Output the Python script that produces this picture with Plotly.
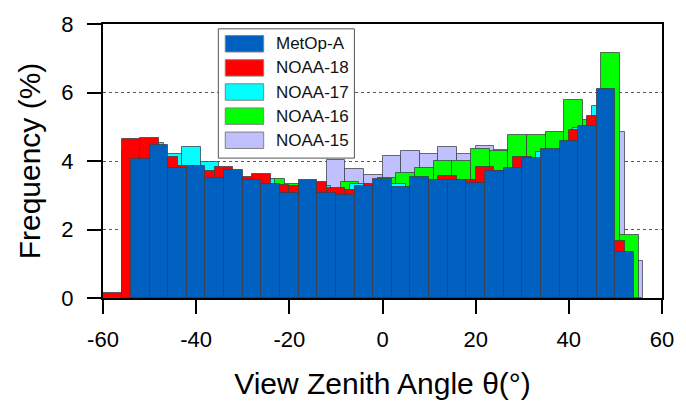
import plotly.graph_objects as go

# Histogram bin width (degrees) and the left edge of the first bin of each satellite
BIN_WIDTH = 4.0

metop_a_start = -54
metop_a = [4.07, 4.46, 3.80, 3.84, 3.50, 3.73, 3.46, 3.33, 3.07, 3.46, 3.06, 3.00, 3.27, 3.48,
           3.25, 3.53, 3.46, 3.45, 3.36, 3.71, 3.79, 4.10, 4.35, 4.58, 5.03, 6.11, 1.34]

noaa18_start = -60
noaa18 = [0.16, 4.63, 4.66, 4.11, 3.85, 3.71, 3.82, 3.53, 3.63, 3.30, 3.27, 3.40, 3.20, 3.16,
          3.33, 3.20, 3.20, 3.40, 3.57, 3.46, 3.83, 3.70, 4.11, 4.05, 4.30, 4.91, 5.32, 1.67]

noaa17_start = -55
noaa17 = [4.40, 4.54, 4.19, 4.42, 3.96, 3.50, 3.40, 3.48, 3.20, 3.20, 3.27, 3.10, 3.32, 3.30,
          3.34, 3.20, 3.40, 3.40, 3.40, 3.70, 3.65, 4.00, 4.26, 4.30, 4.96, 5.62, 1.20]

noaa16_start = -53
noaa16 = [4.30, 4.05, 3.90, 3.75, 3.65, 3.50, 3.45, 3.48, 3.32, 3.25, 3.10, 3.39, 3.20, 3.49,
          3.65, 3.81, 4.01, 4.00, 4.35, 4.29, 4.75, 4.77, 4.85, 5.79, 5.21, 7.15, 1.84]

noaa15_start = -56
noaa15 = [4.30, 4.30, 4.00, 3.75, 3.60, 3.70, 3.45, 3.50, 3.25, 3.20, 3.30, 4.04, 3.76, 3.58,
          4.15, 4.28, 4.21, 4.40, 4.19, 4.45, 4.32, 4.50, 4.60, 4.70, 5.00, 5.20, 4.85, 1.09]

x_ticks = [-60, -40, -20, 0, 20, 40, 60]
y_ticks = [0, 2, 4, 6, 8]

# Drawing order: first trace at the back, MetOp-A in front
series = [
    ("NOAA-15", noaa15_start, noaa15, "#C0C0FF"),
    ("NOAA-16", noaa16_start, noaa16, "#00FF00"),
    ("NOAA-17", noaa17_start, noaa17, "#00FFFF"),
    ("NOAA-18", noaa18_start, noaa18, "#FF0000"),
    ("MetOp-A", metop_a_start, metop_a, "#0060C0"),
]

FONT = "Liberation Sans, Arial, sans-serif"
W, H = 686, 414
PLOT_L, PLOT_R, PLOT_T, PLOT_B = 103, 670, 14, 298

fig = go.Figure()
for name, start, vals, color in series:
    centers = [start + BIN_WIDTH * (i + 0.5) for i in range(len(vals))]
    fig.add_trace(go.Bar(
        x=centers, y=vals, width=BIN_WIDTH, name=name,
        marker=dict(color=color, line=dict(color="rgba(60,60,70,0.75)", width=1)),
        showlegend=False,
    ))


def px_x(px):
    return (px - PLOT_L) / (PLOT_R - PLOT_L)


def px_y(py):
    return (PLOT_B - py) / (PLOT_B - PLOT_T)


# Legend panel drawn on top of the plot area
shapes = [dict(type="rect", xref="paper", yref="paper",
               x0=px_x(220), x1=px_x(358), y0=px_y(153), y1=px_y(19),
               fillcolor="white", line=dict(color="#555555", width=1), layer="above")]
annotations = []
legend_rows = list(reversed(series))
for i, (name, _, _, color) in enumerate(legend_rows):
    top = 26 + i * 25
    shapes.append(dict(type="rect", xref="paper", yref="paper",
                       x0=px_x(227), x1=px_x(266), y0=px_y(top + 17), y1=px_y(top),
                       fillcolor=color, line=dict(color="#808080", width=1), layer="above"))
    annotations.append(dict(xref="paper", yref="paper", x=px_x(276), y=px_y(top + 8.5),
                            text=name, showarrow=False, xanchor="left", yanchor="middle",
                            font=dict(family=FONT, size=17, color="#111111")))

fig.update_layout(
    width=W, height=H,
    margin=dict(l=PLOT_L, r=W - PLOT_R, t=PLOT_T, b=H - PLOT_B),
    paper_bgcolor="white", plot_bgcolor="white",
    barmode="overlay", bargap=0,
    shapes=shapes, annotations=annotations,
    font=dict(family=FONT, color="black"),
    xaxis=dict(
        range=[-60, 60], tickvals=x_ticks, ticktext=[str(v) for v in x_ticks],
        ticks="outside", ticklen=14, tickwidth=2, tickcolor="black",
        showline=True, linewidth=2, linecolor="black", mirror=True,
        showgrid=False, zeroline=False,
        tickfont=dict(size=22, family=FONT), ticklabelstandoff=7,
        title=dict(text="View Zenith Angle θ(°)", font=dict(size=30, family=FONT), standoff=22),
    ),
    yaxis=dict(
        range=[0, 8], tickvals=y_ticks, ticktext=[str(v) for v in y_ticks],
        ticks="outside", ticklen=14, tickwidth=2, tickcolor="black",
        showline=True, linewidth=2, linecolor="black", mirror=True,
        showgrid=True, gridcolor="#555555", griddash="dot", gridwidth=1,
        zeroline=False,
        tickfont=dict(size=22, family=FONT), ticklabelstandoff=9,
        title=dict(text="Frequency (%)", font=dict(size=30, family=FONT), standoff=12),
    ),
)

fig.write_html("out.html")
